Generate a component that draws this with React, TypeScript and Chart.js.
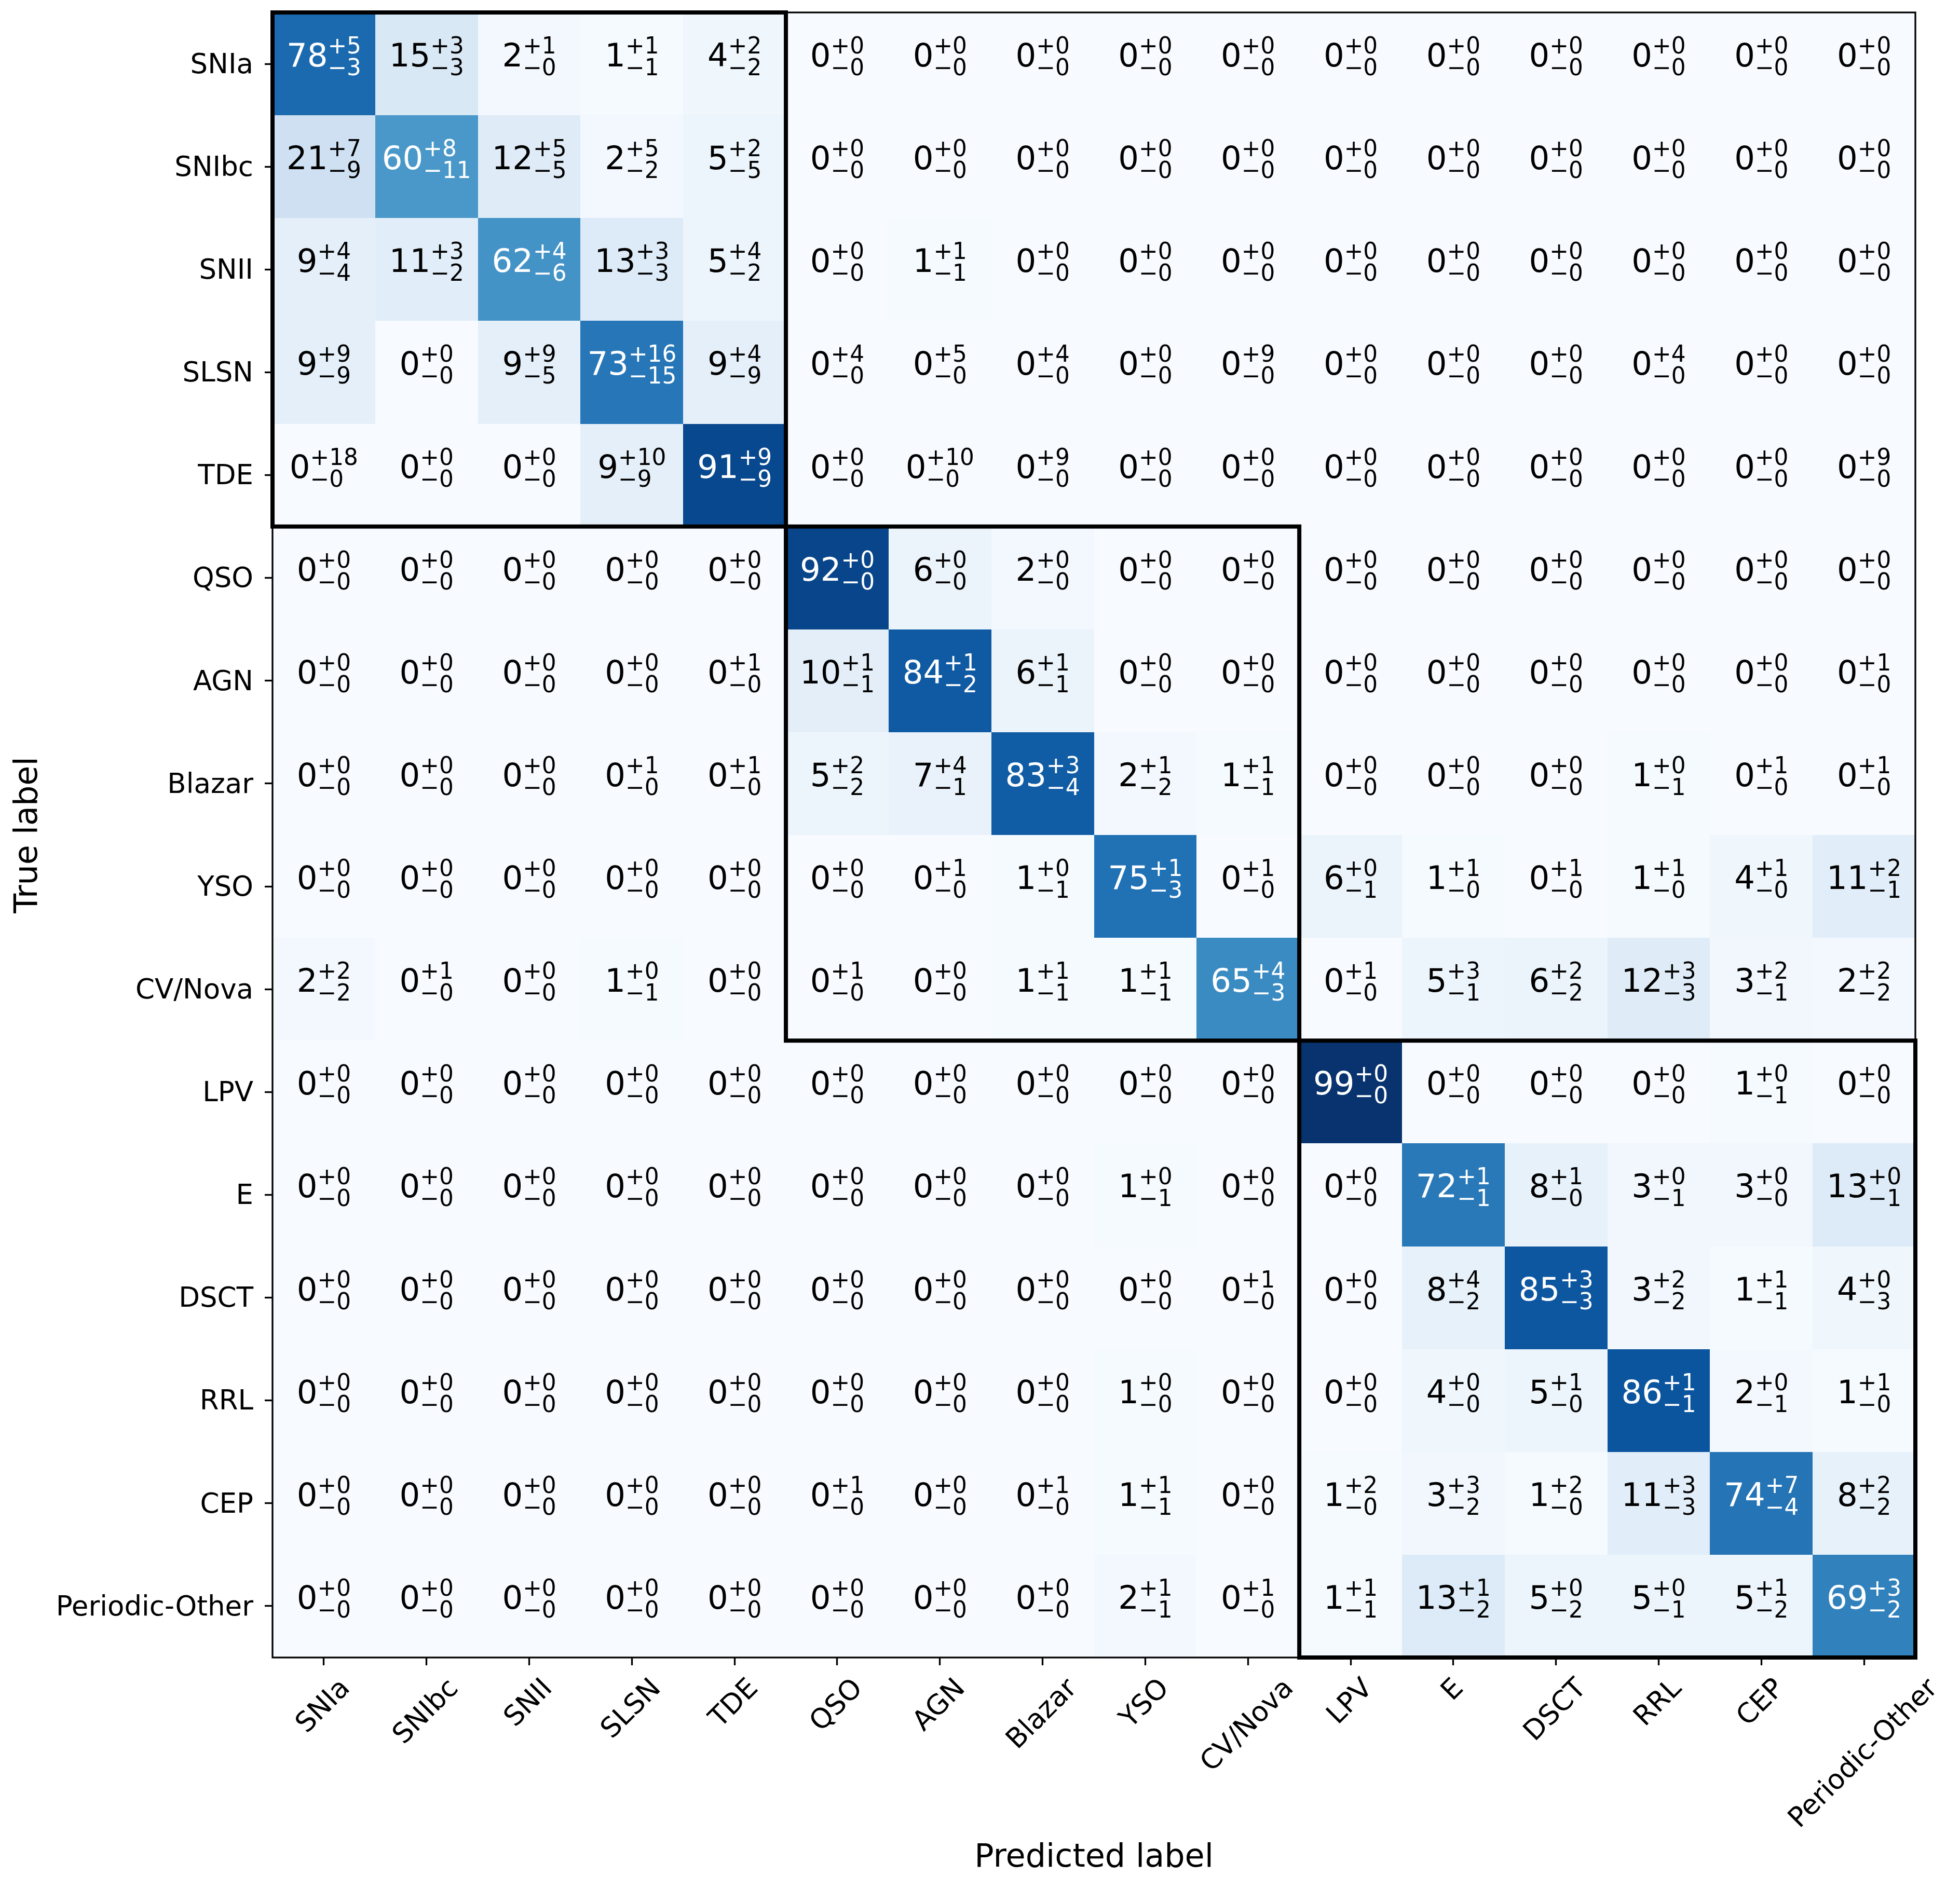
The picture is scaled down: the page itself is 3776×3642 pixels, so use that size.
import React, { useEffect, useRef } from "react";
import { Chart, registerables } from "chart.js";

Chart.register(...registerables);

const FONT = '"DejaVu Sans", "Liberation Sans", sans-serif';
const CANVAS_W = 3776;
const CANVAS_H = 3642;

const classLabels = [
  "SNIa", "SNIbc", "SNII", "SLSN", "TDE", "QSO", "AGN", "Blazar",
  "YSO", "CV/Nova", "LPV", "E", "DSCT", "RRL", "CEP", "Periodic-Other",
];

// rows = true label, columns = predicted label (percent)
const cellValues = [
  [78, 15, 2, 1, 4, 0, 0, 0, 0, 0, 0, 0, 0, 0, 0, 0],
  [21, 60, 12, 2, 5, 0, 0, 0, 0, 0, 0, 0, 0, 0, 0, 0],
  [9, 11, 62, 13, 5, 0, 1, 0, 0, 0, 0, 0, 0, 0, 0, 0],
  [9, 0, 9, 73, 9, 0, 0, 0, 0, 0, 0, 0, 0, 0, 0, 0],
  [0, 0, 0, 9, 91, 0, 0, 0, 0, 0, 0, 0, 0, 0, 0, 0],
  [0, 0, 0, 0, 0, 92, 6, 2, 0, 0, 0, 0, 0, 0, 0, 0],
  [0, 0, 0, 0, 0, 10, 84, 6, 0, 0, 0, 0, 0, 0, 0, 0],
  [0, 0, 0, 0, 0, 5, 7, 83, 2, 1, 0, 0, 0, 1, 0, 0],
  [0, 0, 0, 0, 0, 0, 0, 1, 75, 0, 6, 1, 0, 1, 4, 11],
  [2, 0, 0, 1, 0, 0, 0, 1, 1, 65, 0, 5, 6, 12, 3, 2],
  [0, 0, 0, 0, 0, 0, 0, 0, 0, 0, 99, 0, 0, 0, 1, 0],
  [0, 0, 0, 0, 0, 0, 0, 0, 1, 0, 0, 72, 8, 3, 3, 13],
  [0, 0, 0, 0, 0, 0, 0, 0, 0, 0, 0, 8, 85, 3, 1, 4],
  [0, 0, 0, 0, 0, 0, 0, 0, 1, 0, 0, 4, 5, 86, 2, 1],
  [0, 0, 0, 0, 0, 0, 0, 0, 1, 0, 1, 3, 1, 11, 74, 8],
  [0, 0, 0, 0, 0, 0, 0, 0, 2, 0, 1, 13, 5, 5, 5, 69],
];

const upperErrors = [
  [5, 3, 1, 1, 2, 0, 0, 0, 0, 0, 0, 0, 0, 0, 0, 0],
  [7, 8, 5, 5, 2, 0, 0, 0, 0, 0, 0, 0, 0, 0, 0, 0],
  [4, 3, 4, 3, 4, 0, 1, 0, 0, 0, 0, 0, 0, 0, 0, 0],
  [9, 0, 9, 16, 4, 4, 5, 4, 0, 9, 0, 0, 0, 4, 0, 0],
  [18, 0, 0, 10, 9, 0, 10, 9, 0, 0, 0, 0, 0, 0, 0, 9],
  [0, 0, 0, 0, 0, 0, 0, 0, 0, 0, 0, 0, 0, 0, 0, 0],
  [0, 0, 0, 0, 1, 1, 1, 1, 0, 0, 0, 0, 0, 0, 0, 1],
  [0, 0, 0, 1, 1, 2, 4, 3, 1, 1, 0, 0, 0, 0, 1, 1],
  [0, 0, 0, 0, 0, 0, 1, 0, 1, 1, 0, 1, 1, 1, 1, 2],
  [2, 1, 0, 0, 0, 1, 0, 1, 1, 4, 1, 3, 2, 3, 2, 2],
  [0, 0, 0, 0, 0, 0, 0, 0, 0, 0, 0, 0, 0, 0, 0, 0],
  [0, 0, 0, 0, 0, 0, 0, 0, 0, 0, 0, 1, 1, 0, 0, 0],
  [0, 0, 0, 0, 0, 0, 0, 0, 0, 1, 0, 4, 3, 2, 1, 0],
  [0, 0, 0, 0, 0, 0, 0, 0, 0, 0, 0, 0, 1, 1, 0, 1],
  [0, 0, 0, 0, 0, 1, 0, 1, 1, 0, 2, 3, 2, 3, 7, 2],
  [0, 0, 0, 0, 0, 0, 0, 0, 1, 1, 1, 1, 0, 0, 1, 3],
];

const lowerErrors = [
  [3, 3, 0, 1, 2, 0, 0, 0, 0, 0, 0, 0, 0, 0, 0, 0],
  [9, 11, 5, 2, 5, 0, 0, 0, 0, 0, 0, 0, 0, 0, 0, 0],
  [4, 2, 6, 3, 2, 0, 1, 0, 0, 0, 0, 0, 0, 0, 0, 0],
  [9, 0, 5, 15, 9, 0, 0, 0, 0, 0, 0, 0, 0, 0, 0, 0],
  [0, 0, 0, 9, 9, 0, 0, 0, 0, 0, 0, 0, 0, 0, 0, 0],
  [0, 0, 0, 0, 0, 0, 0, 0, 0, 0, 0, 0, 0, 0, 0, 0],
  [0, 0, 0, 0, 0, 1, 2, 1, 0, 0, 0, 0, 0, 0, 0, 0],
  [0, 0, 0, 0, 0, 2, 1, 4, 2, 1, 0, 0, 0, 1, 0, 0],
  [0, 0, 0, 0, 0, 0, 0, 1, 3, 0, 1, 0, 0, 0, 0, 1],
  [2, 0, 0, 1, 0, 0, 0, 1, 1, 3, 0, 1, 2, 3, 1, 2],
  [0, 0, 0, 0, 0, 0, 0, 0, 0, 0, 0, 0, 0, 0, 1, 0],
  [0, 0, 0, 0, 0, 0, 0, 0, 1, 0, 0, 1, 0, 1, 0, 1],
  [0, 0, 0, 0, 0, 0, 0, 0, 0, 0, 0, 2, 3, 2, 1, 3],
  [0, 0, 0, 0, 0, 0, 0, 0, 0, 0, 0, 0, 0, 1, 1, 0],
  [0, 0, 0, 0, 0, 0, 0, 0, 1, 0, 0, 2, 0, 3, 4, 2],
  [0, 0, 0, 0, 0, 0, 0, 0, 1, 0, 1, 2, 2, 1, 2, 2],
];

// [first index, last index] of each highlighted class group (rows = cols)
const groupBlocks = [
  [0, 4],
  [5, 9],
  [10, 15],
];

const bluesStops = [
  "#f7fbff", "#deebf7", "#c6dbef", "#9ecae1", "#6baed6",
  "#4292c6", "#2171b5", "#08519c", "#08306b",
];
const colorMin = 0;
const colorMax = 100;
const whiteTextThreshold = 50;

function hexToRgb(h: string): number[] {
  const n = parseInt(h.slice(1), 16);
  return [(n >> 16) & 255, (n >> 8) & 255, n & 255];
}

function bluesColor(v: number): string {
  const frac = Math.max(0, Math.min(1, (v - colorMin) / (colorMax - colorMin)));
  const t = frac * (bluesStops.length - 1);
  const i = Math.min(Math.floor(t), bluesStops.length - 2);
  const f = t - i;
  const a = hexToRgb(bluesStops[i]);
  const b = hexToRgb(bluesStops[i + 1]);
  const c = a.map((av, k) => Math.round(av + (b[k] - av) * f));
  return `rgb(${c[0]},${c[1]},${c[2]})`;
}

const MAIN_SIZE = 62.5;
const SCRIPT_SIZE = 43.75;
const TICK_SIZE = 53;
const LABEL_SIZE = 62;
const TICK_LEN = 15;
const X_TICK_PAD = 15;
const Y_TICK_PAD = 22;

const heatmapPlugin = {
  id: "heatmapCells",
  beforeDatasetsDraw(chart: any) {
    const { ctx } = chart;
    const xs = chart.scales.x;
    const ys = chart.scales.y;
    ctx.save();
    cellValues.forEach((row, r) => {
      row.forEach((v, c) => {
        const x0 = Math.round(xs.getPixelForValue(c - 0.5));
        const x1 = Math.round(xs.getPixelForValue(c + 0.5));
        const ya = Math.round(ys.getPixelForValue(r - 0.5));
        const yb = Math.round(ys.getPixelForValue(r + 0.5));
        ctx.fillStyle = bluesColor(v);
        ctx.fillRect(x0, Math.min(ya, yb), x1 - x0, Math.abs(yb - ya));
      });
    });
    ctx.restore();
  },
  afterDatasetsDraw(chart: any) {
    const { ctx } = chart;
    const xs = chart.scales.x;
    const ys = chart.scales.y;
    ctx.save();
    ctx.textAlign = "left";
    ctx.textBaseline = "alphabetic";
    cellValues.forEach((row, r) => {
      row.forEach((v, c) => {
        const cx = xs.getPixelForValue(c);
        const cy = ys.getPixelForValue(r);
        const main = String(v);
        const sup = "+" + upperErrors[r][c];
        const sub = "\u2212" + lowerErrors[r][c];
        ctx.font = `${MAIN_SIZE}px ${FONT}`;
        const mw = ctx.measureText(main).width;
        ctx.font = `${SCRIPT_SIZE}px ${FONT}`;
        const sw = Math.max(ctx.measureText(sup).width, ctx.measureText(sub).width);
        const startX = cx - (mw + sw) / 2;
        ctx.fillStyle = v > whiteTextThreshold ? "#ffffff" : "#000000";
        ctx.font = `${MAIN_SIZE}px ${FONT}`;
        ctx.fillText(main, startX, cy + 5);
        ctx.font = `${SCRIPT_SIZE}px ${FONT}`;
        ctx.fillText(sup, startX + mw, cy - 20);
        ctx.fillText(sub, startX + mw, cy + 22);
      });
    });

    const { left, top, right, bottom } = chart.chartArea;
    ctx.strokeStyle = "#000000";
    ctx.lineWidth = 3.3;
    ctx.strokeRect(left, top, right - left, bottom - top);

    ctx.lineWidth = 8;
    ctx.lineJoin = "miter";
    groupBlocks.forEach(([a, b]) => {
      const x0 = xs.getPixelForValue(a - 0.5);
      const x1 = xs.getPixelForValue(b + 0.5);
      const ya = ys.getPixelForValue(a - 0.5);
      const yb = ys.getPixelForValue(b + 0.5);
      ctx.strokeRect(x0, Math.min(ya, yb), x1 - x0, Math.abs(yb - ya));
    });
    ctx.restore();
  },
  afterDraw(chart: any) {
    const { ctx } = chart;
    const xs = chart.scales.x;
    const topY = chart.chartArea.bottom + TICK_LEN + X_TICK_PAD;
    ctx.save();
    ctx.font = `${TICK_SIZE}px ${FONT}`;
    ctx.fillStyle = "#000000";
    ctx.textAlign = "center";
    ctx.textBaseline = "middle";
    const h = TICK_SIZE * 1.17;
    classLabels.forEach((label, i) => {
      const x = xs.getPixelForValue(i);
      const w = ctx.measureText(label).width;
      const cy = topY + ((w + h) * Math.SQRT1_2) / 2;
      ctx.save();
      ctx.translate(x, cy);
      ctx.rotate(-Math.PI / 4);
      ctx.fillText(label, 0, 0);
      ctx.restore();
    });
    ctx.restore();
  },
};

export default function App() {
  const canvasRef = useRef<HTMLCanvasElement | null>(null);

  useEffect(() => {
    const canvas = canvasRef.current;
    if (!canvas) return;
    const points: { x: number; y: number }[] = [];
    cellValues.forEach((row, r) => row.forEach((_, c) => points.push({ x: c, y: r })));

    const tickBuilder = (scale: any) => {
      scale.ticks = classLabels.map((_, i) => ({ value: i }));
    };
    const gridOpts = {
      display: true,
      drawOnChartArea: false,
      drawTicks: true,
      tickLength: TICK_LEN,
      tickWidth: 3.3,
      tickColor: "#000000",
    };
    const clearPadding = (scale: any) => {
      scale.paddingTop = 0;
      scale.paddingBottom = 0;
      scale.paddingLeft = 0;
      scale.paddingRight = 0;
    };

    const chart = new Chart(canvas, {
      type: "scatter",
      data: {
        datasets: [
          {
            label: "cells",
            data: points,
            pointRadius: 0,
            pointHoverRadius: 0,
            showLine: false,
          },
        ],
      },
      options: {
        responsive: false,
        animation: false,
        devicePixelRatio: 1,
        events: [],
        layout: { padding: { left: 0, top: 24, right: 86, bottom: 0 } },
        plugins: {
          legend: { display: false },
          tooltip: { enabled: false },
          title: { display: false },
        },
        scales: {
          x: {
            type: "linear",
            min: -0.5,
            max: 15.5,
            afterBuildTicks: tickBuilder,
            afterFit: (scale: any) => {
              scale.height = 448;
              clearPadding(scale);
            },
            ticks: { display: false, autoSkip: false },
            grid: gridOpts,
            border: { display: false },
            title: {
              display: true,
              text: "Predicted label",
              color: "#000000",
              font: { family: FONT, size: LABEL_SIZE },
              padding: { top: 0, bottom: 24 },
            },
          },
          y: {
            type: "linear",
            min: -0.5,
            max: 15.5,
            reverse: true,
            afterBuildTicks: tickBuilder,
            afterFit: (scale: any) => {
              scale.width = 525;
              clearPadding(scale);
            },
            ticks: {
              autoSkip: false,
              color: "#000000",
              padding: Y_TICK_PAD,
              labelOffset: 4,
              font: { family: FONT, size: TICK_SIZE },
              callback: (value: any) => classLabels[Math.round(Number(value))] ?? "",
            },
            grid: gridOpts,
            border: { display: false },
            title: {
              display: true,
              text: "True label",
              color: "#000000",
              font: { family: FONT, size: LABEL_SIZE },
              padding: { top: 18, bottom: 0 },
            },
          },
        },
      },
      plugins: [heatmapPlugin],
    } as any);

    return () => {
      chart.destroy();
    };
  }, []);

  return (
    <div style={{ position: "absolute", left: 0, top: 0, width: CANVAS_W, height: CANVAS_H, background: "#ffffff" }}>
      <canvas
        ref={canvasRef}
        width={CANVAS_W}
        height={CANVAS_H}
        style={{ display: "block", width: CANVAS_W, height: CANVAS_H }}
      />
    </div>
  );
}
